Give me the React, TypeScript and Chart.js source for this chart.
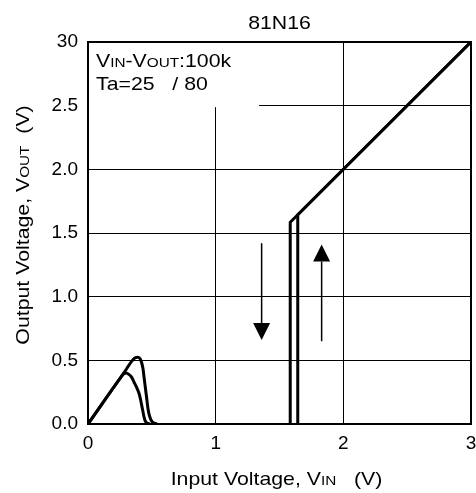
import React, { useEffect, useRef } from "react";
import { Chart, registerables } from "chart.js";

Chart.register(...registerables);

// ---- data ----
const chartTitle = "81N16";
const xTickValues = [0, 1, 2, 3];
const yTickLabels = ["0.0", "0.5", "1.0", "1.5", "2.0", "2.5", "30"];

// low-voltage hump, outer curve
const humpAX = [0, 0.3, 0.34, 0.37, 0.39, 0.41, 0.43, 0.44, 0.45, 0.46, 0.47, 0.48, 0.5, 0.54];
const humpAY = [0, 0.43, 0.49, 0.52, 0.525, 0.51, 0.44, 0.36, 0.28, 0.2, 0.12, 0.07, 0.02, 0];
// low-voltage hump, inner curve
const humpBX = [0, 0.26, 0.28, 0.3, 0.32, 0.34, 0.36, 0.38, 0.4, 0.41, 0.42, 0.43, 0.44, 0.45, 0.48];
const humpBY = [0, 0.37, 0.395, 0.4, 0.39, 0.37, 0.33, 0.29, 0.24, 0.2, 0.15, 0.1, 0.05, 0.02, 0];
// hysteresis branches
const riseX = [1.643, 1.643, 3.0];
const riseY = [0, 1.643, 3.0];
const fallX = [1.584, 1.584, 3.0];
const fallY = [0, 1.584, 3.0];
// arrows: [x, from y, to y]
const arrowDown = [1.36, 1.42, 0.66];
const arrowUp = [1.83, 0.65, 1.41];
// legend box extent in data units
const legendBoxX = 1.34;
const legendBoxY = 2.5;

const FONT = '"Liberation Sans", Arial, Helvetica, sans-serif';
const STRETCH = 1.12;

type Seg = [string, number];

function segWidth(ctx: CanvasRenderingContext2D, segs: Seg[], size: number) {
  let w = 0;
  for (const [t, f] of segs) {
    ctx.font = `${size * f}px ${FONT}`;
    w += ctx.measureText(t).width;
  }
  return w;
}

function drawSegs(
  ctx: CanvasRenderingContext2D,
  segs: Seg[],
  x: number,
  y: number,
  size: number,
  opts: { align?: "left" | "center"; rotate?: boolean } = {}
) {
  ctx.save();
  ctx.translate(x, y);
  if (opts.rotate) ctx.rotate(-Math.PI / 2);
  ctx.scale(STRETCH, 1);
  ctx.fillStyle = "#000";
  ctx.textBaseline = "alphabetic";
  ctx.textAlign = "left";
  let cx = 0;
  if (opts.align === "center") cx = -segWidth(ctx, segs, size) / 2;
  for (const [t, f] of segs) {
    ctx.font = `${size * f}px ${FONT}`;
    ctx.fillText(t, cx, 0);
    cx += ctx.measureText(t).width;
  }
  ctx.restore();
}

function drawArrow(ctx: CanvasRenderingContext2D, x: number, y0: number, y1: number) {
  const dir = Math.sign(y1 - y0);
  const head = 17;
  const hw = 8.5;
  ctx.save();
  ctx.strokeStyle = "#000";
  ctx.fillStyle = "#000";
  ctx.lineWidth = 1.5;
  ctx.beginPath();
  ctx.moveTo(x, y0);
  ctx.lineTo(x, y1 - dir * head);
  ctx.stroke();
  ctx.beginPath();
  ctx.moveTo(x, y1);
  ctx.lineTo(x - hw, y1 - dir * head);
  ctx.lineTo(x + hw, y1 - dir * head);
  ctx.closePath();
  ctx.fill();
  ctx.restore();
}

const decorPlugin = {
  id: "decor",
  beforeDatasetsDraw(chart: any) {
    const { ctx, chartArea: a, scales } = chart;
    const xs = scales.x;
    const ys = scales.y;
    ctx.save();
    ctx.fillStyle = "#fff";
    const bx = xs.getPixelForValue(legendBoxX);
    const by = ys.getPixelForValue(legendBoxY) + 1.5;
    ctx.fillRect(a.left + 1, a.top + 1, bx - a.left - 1, by - a.top - 1);
    ctx.lineWidth = 2;
    ctx.strokeStyle = "#000";
    ctx.strokeRect(a.left, a.top, a.right - a.left, a.bottom - a.top);
    ctx.restore();
  },
  afterDatasetsDraw(chart: any) {
    const { ctx, chartArea: a, scales } = chart;
    const xs = scales.x;
    const ys = scales.y;
    drawArrow(ctx, xs.getPixelForValue(arrowDown[0]), ys.getPixelForValue(arrowDown[1]), ys.getPixelForValue(arrowDown[2]));
    drawArrow(ctx, xs.getPixelForValue(arrowUp[0]), ys.getPixelForValue(arrowUp[1]), ys.getPixelForValue(arrowUp[2]));

    const cx = (a.left + a.right) / 2;
    drawSegs(ctx, [[chartTitle, 1]], cx, 29, 19, { align: "center" });
    drawSegs(ctx, [["V", 1], ["IN", 0.72], ["-V", 1], ["OUT", 0.72], [":100k", 1]], a.left + 8, 67, 19);
    drawSegs(ctx, [["Ta=25   / 80", 1]], a.left + 8, 90, 19);
    drawSegs(ctx, [["Input Voltage, V", 1], ["IN", 0.72], ["   (V)", 1]], cx - 3, 485, 19, { align: "center" });
    drawSegs(ctx, [["Output Voltage, V", 1], ["OUT", 0.72], ["  (V)", 1]], 29, 225, 19, { align: "center", rotate: true });
  },
};

const pts = (xs: number[], ys: number[]) => xs.map((x, i) => ({ x, y: ys[i] }));

export default function App() {
  const ref = useRef<HTMLCanvasElement | null>(null);
  useEffect(() => {
    if (!ref.current) return;
    const line = (xs: number[], ys: number[], smooth: boolean) => ({
      data: pts(xs, ys),
      showLine: true,
      borderColor: "#000",
      backgroundColor: "#000",
      borderWidth: 3,
      pointRadius: 0,
      fill: false,
      tension: 0,
      cubicInterpolationMode: smooth ? "monotone" : "default",
    });
    const tickFont = { family: FONT, size: 19 };
    const chart = new Chart(ref.current, {
      type: "scatter",
      data: {
        datasets: [
          line(humpAX, humpAY, true),
          line(humpBX, humpBY, true),
          line(riseX, riseY, false),
          line(fallX, fallY, false),
        ] as any,
      },
      options: {
        animation: false,
        responsive: true,
        maintainAspectRatio: false,
        layout: { padding: { top: 42, right: 5, left: 0, bottom: 0 } },
        plugins: { legend: { display: false }, tooltip: { enabled: false }, title: { display: false } },
        scales: {
          x: {
            type: "linear",
            min: 0,
            max: 3,
            afterBuildTicks: (s: any) => {
              s.ticks = xTickValues.map((v) => ({ value: v }));
            },
            ticks: { padding: 8, color: "#000", font: tickFont, callback: (v: any) => String(v) },
            grid: { color: "#000", lineWidth: 1, drawTicks: false },
            border: { display: false },
            afterFit: (s: any) => {
              s.height = 69;
              s.paddingLeft = 0;
              s.paddingRight = 0;
            },
          },
          y: {
            type: "linear",
            min: 0,
            max: 3,
            ticks: {
              stepSize: 0.5,
              padding: 10,
              color: "#000",
              font: tickFont,
              callback: (v: any) => yTickLabels[Math.round(Number(v) * 2)],
            },
            grid: { color: "#000", lineWidth: 1, drawTicks: false },
            border: { display: false },
            afterFit: (s: any) => {
              s.width = 88;
              s.paddingTop = 0;
              s.paddingBottom = 0;
            },
          },
        },
      },
      plugins: [decorPlugin],
    } as any);
    return () => chart.destroy();
  }, []);
  return (
    <div style={{ position: "fixed", left: 0, top: 0, width: 476, height: 493, background: "#fff" }}>
      <canvas ref={ref} />
    </div>
  );
}
